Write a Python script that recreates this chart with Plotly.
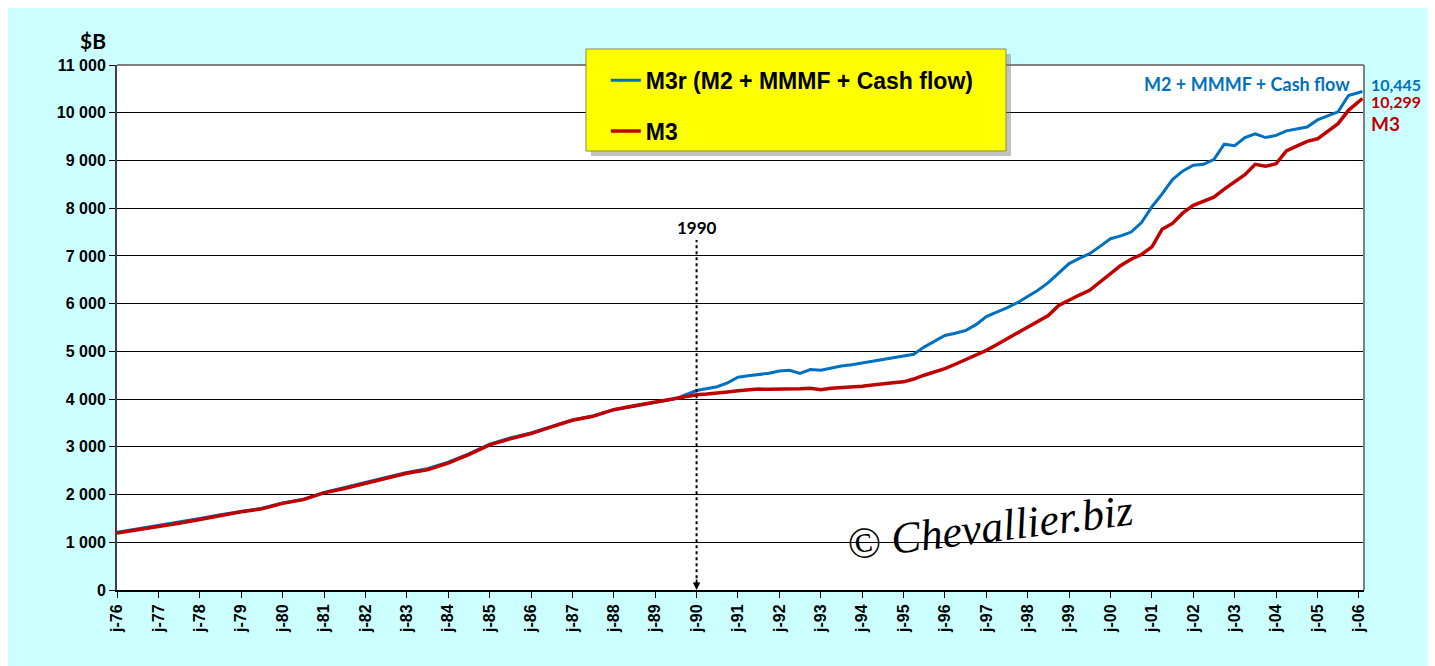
import plotly.graph_objects as go

# readings: half-yearly up to 1990, quarterly after
dates = [
    "1976-01", "1976-07", "1977-01", "1977-07", "1978-01", "1978-07", "1979-01", "1979-07",
    "1980-01", "1980-07", "1981-01", "1981-07", "1982-01", "1982-07", "1983-01", "1983-07",
    "1984-01", "1984-07", "1985-01", "1985-07", "1986-01", "1986-07", "1987-01", "1987-07",
    "1988-01", "1988-07", "1989-01", "1989-07",
    "1990-01", "1990-04", "1990-07", "1990-10", "1991-01", "1991-04", "1991-07", "1991-10",
    "1992-01", "1992-04", "1992-07", "1992-10", "1993-01", "1993-04", "1993-07", "1993-10",
    "1994-01", "1994-04", "1994-07", "1994-10", "1995-01", "1995-04", "1995-07", "1995-10",
    "1996-01", "1996-04", "1996-07", "1996-10", "1997-01", "1997-04", "1997-07", "1997-10",
    "1998-01", "1998-04", "1998-07", "1998-10", "1999-01", "1999-04", "1999-07", "1999-10",
    "2000-01", "2000-04", "2000-07", "2000-10", "2001-01", "2001-04", "2001-07", "2001-10",
    "2002-01", "2002-04", "2002-07", "2002-10", "2003-01", "2003-04", "2003-07", "2003-10",
    "2004-01", "2004-04", "2004-07", "2004-10", "2005-01", "2005-04", "2005-07", "2005-10",
    "2006-01", "2006-02",
]

m3r = [
    1212, 1280, 1348, 1425, 1500, 1578, 1652, 1712,
    1825, 1900, 2045, 2145, 2255, 2360, 2465, 2540,
    2680, 2850, 3055, 3185, 3290, 3425, 3565, 3645,
    3780, 3850, 3925, 4010,
    4180, 4220, 4260, 4340, 4460, 4490, 4515, 4540,
    4590, 4605, 4540, 4620, 4605, 4650, 4695, 4720,
    4757, 4790, 4826, 4870, 4910, 4940, 5090, 5220,
    5333, 5380, 5437, 5560, 5729, 5820, 5910, 6020,
    6150, 6280, 6440, 6650, 6840, 6950, 7046, 7200,
    7360, 7420, 7500, 7700, 8030, 8300, 8600, 8780,
    8900, 8920, 9020, 9340, 9310, 9480, 9560, 9480,
    9525, 9620, 9660, 9700, 9850, 9930, 10020, 10360,
    10420, 10445,
]

m3 = [
    1194, 1260, 1326, 1400, 1479, 1560, 1639, 1700,
    1815, 1894, 2035, 2128, 2234, 2340, 2447, 2518,
    2660, 2837, 3040, 3167, 3278, 3417, 3556, 3639,
    3778, 3861, 3938, 4021,
    4090, 4105, 4120, 4150, 4175, 4195, 4210, 4205,
    4205, 4215, 4215, 4225, 4195, 4225, 4236, 4250,
    4271, 4295, 4326, 4340, 4361, 4420, 4500, 4570,
    4639, 4730, 4826, 4920, 5021, 5140, 5264, 5390,
    5507, 5630, 5750, 5960, 6080, 6180, 6280, 6450,
    6630, 6800, 6930, 7030, 7190, 7560, 7680, 7900,
    8060, 8150, 8230, 8400, 8560, 8700, 8920, 8880,
    8930, 9200, 9300, 9400, 9454, 9620, 9770, 10050,
    10230, 10299,
]

tick_dates = [f"{y}-01-01" for y in range(1976, 2007)]
tick_labels = [f"j-{str(y)[2:]}" for y in range(1976, 2007)]

BLUE = "#0070C0"
RED = "#C00000"
BG = "#CCFFFF"

fig = go.Figure()
fig.add_trace(go.Scatter(x=dates, y=m3r, mode="lines", name="M3r (M2 + MMMF + Cash flow)",
                         line=dict(color=BLUE, width=3), legendgroup="a"))
fig.add_trace(go.Scatter(x=dates, y=m3, mode="lines", name="M3",
                         line=dict(color=RED, width=3.5), legendgroup="b"))

# legend box (shadow + yellow)
fig.add_shape(type="rect", xref="paper", yref="paper", x0=0.3801, x1=0.7169, y0=0.8267, y1=1.021,
              fillcolor="rgba(120,120,120,0.45)", line=dict(width=0), layer="above")
fig.add_shape(type="rect", xref="paper", yref="paper", x0=0.3761, x1=0.7129, y0=0.8362, y1=1.0305,
              fillcolor="#FFFF00", line=dict(color="#8C8C50", width=1), layer="above")

# top / right frame
fig.add_shape(type="line", xref="paper", yref="paper", x0=0, x1=1, y0=1, y1=1,
              line=dict(color="#808080", width=2), layer="below")
fig.add_shape(type="line", xref="paper", yref="paper", x0=1, x1=1, y0=0, y1=1,
              line=dict(color="#808080", width=2), layer="above")

# 1990 marker
fig.add_shape(type="line", x0="1990-01-01", x1="1990-01-01", y0=120, y1=7333,
              line=dict(color="black", width=2, dash="dot"))
fig.add_annotation(x="1990-01-01", y=0, ax=0, ay=-12, text="", showarrow=True,
                   arrowhead=2, arrowsize=1, arrowwidth=1.5, arrowcolor="black")
fig.add_annotation(x="1990-01-01", y=7333, text="<b>1990</b>", showarrow=False,
                   yanchor="bottom", font=dict(family="Lato", size=17, color="black"))

# right side labels
fig.add_annotation(x=dates[-1], y=m3r[-1], text="<b>M2 + MMMF + Cash flow</b>", showarrow=False,
                   xanchor="right", xshift=-10, yshift=7, font=dict(family="Lato", size=18, color=BLUE))
fig.add_annotation(x=dates[-1], y=m3r[-1], text=f"<b>{m3r[-1]:,}</b>", showarrow=False,
                   xanchor="left", xshift=7, yshift=7, font=dict(family="Lato", size=16, color=BLUE))
fig.add_annotation(x=dates[-1], y=m3[-1], text=f"<b>{m3[-1]:,}</b>", showarrow=False,
                   xanchor="left", xshift=7, yshift=-3, font=dict(family="Lato", size=16, color=RED))
fig.add_annotation(x=dates[-1], y=m3[-1], text="<b>M3</b>", showarrow=False,
                   xanchor="left", xshift=7, yshift=-25, font=dict(family="Lato", size=19, color=RED))

# unit label
fig.add_annotation(xref="paper", yref="paper", x=-0.019, y=1.0476, text="<b>$B</b>", showarrow=False,
                   xanchor="center", yanchor="middle",
                   font=dict(family="Lato", size=21, color="black"))

# watermark
fig.add_annotation(xref="paper", yref="paper", x=0.70, y=0.12, text="<i>© Chevallier.biz</i>",
                   showarrow=False, textangle=-7, xanchor="center", yanchor="middle",
                   font=dict(family="Liberation Serif", size=44, color="black"))

fig.update_layout(
    width=1427, height=658,
    paper_bgcolor=BG, plot_bgcolor="white",
    margin=dict(l=109, r=71, t=57, b=76),
    separators=". ",
    showlegend=True,
    legend=dict(x=0.392, y=1.012, xanchor="left", yanchor="top", bgcolor="rgba(0,0,0,0)",
                borderwidth=0, tracegroupgap=18,
                font=dict(family="Liberation Sans", size=23, color="black", weight="bold")),
    xaxis=dict(
        type="date", range=["1976-01-01", "2006-02-15"],
        tickvals=tick_dates, ticktext=tick_labels, tickangle=-90,
        tickfont=dict(family="Liberation Sans", size=16, color="black", weight="bold"),
        showgrid=False, showline=True, linecolor="black", linewidth=2,
        ticks="outside", ticklen=6, tickcolor="black", zeroline=False,
    ),
    yaxis=dict(
        range=[0, 11000], dtick=1000, tickformat=",d",
        tickfont=dict(family="Liberation Sans", size=16, color="black", weight="bold"),
        showgrid=True, gridcolor="black", gridwidth=1,
        showline=True, linecolor="#404040", linewidth=2,
        ticks="outside", ticklen=6, tickcolor="black", zeroline=False,
    ),
)

fig.write_html("out.html")
